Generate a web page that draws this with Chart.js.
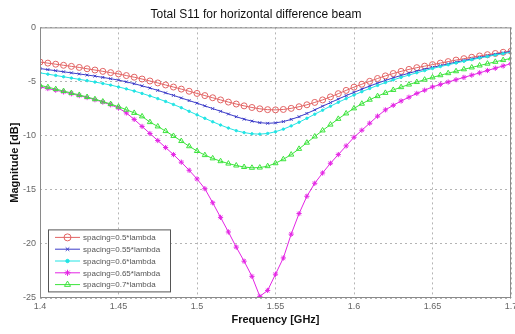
<!DOCTYPE html>
<html>
<head>
<meta charset="utf-8">
<script src="https://cdn.jsdelivr.net/npm/chart.js@4"></script>
<style>
  html, body { margin: 0; padding: 0; background: #fff; }
  #wrap { width: 515px; height: 334px; }
</style>
</head>
<body>
<div id="wrap"><canvas id="s11-chart" width="515" height="334"></canvas></div>
<script>
// frequency samples [GHz]
const freq = [];
for (let i = 0; i <= 60; i++) freq.push(+(1.4 + i * 0.005).toFixed(3));

// magnitude [dB]
const s050 = [-3.20,-3.30,-3.40,-3.50,-3.60,-3.70,-3.82,-3.94,-4.06,-4.18,-4.30,-4.45,-4.60,-4.77,-4.95,-5.13,-5.32,-5.51,-5.70,-5.90,
  -6.10,-6.30,-6.50,-6.70,-6.90,-7.08,-7.25,-7.40,-7.52,-7.60,-7.62,-7.58,-7.48,-7.33,-7.15,-6.93,-6.70,-6.42,-6.12,-5.82,
  -5.52,-5.25,-4.98,-4.72,-4.48,-4.26,-4.06,-3.88,-3.72,-3.58,-3.44,-3.30,-3.16,-3.02,-2.89,-2.76,-2.64,-2.52,-2.41,-2.30,-2.20];
const s055 = [-3.80,-3.90,-4.00,-4.10,-4.20,-4.30,-4.40,-4.50,-4.62,-4.74,-4.87,-5.03,-5.20,-5.40,-5.60,-5.82,-6.05,-6.28,-6.52,-6.76,
  -7.00,-7.25,-7.50,-7.75,-8.00,-8.25,-8.48,-8.66,-8.80,-8.86,-8.82,-8.70,-8.50,-8.25,-7.95,-7.62,-7.28,-6.95,-6.62,-6.30,
  -6.00,-5.70,-5.42,-5.15,-4.90,-4.66,-4.44,-4.23,-4.04,-3.86,-3.70,-3.53,-3.37,-3.21,-3.06,-2.91,-2.77,-2.63,-2.49,-2.35,-2.22];
const s060 = [-4.20,-4.32,-4.44,-4.56,-4.68,-4.80,-4.92,-5.05,-5.18,-5.33,-5.50,-5.68,-5.88,-6.10,-6.33,-6.58,-6.84,-7.12,-7.42,-7.75,
  -8.08,-8.40,-8.72,-9.02,-9.30,-9.54,-9.72,-9.83,-9.86,-9.80,-9.64,-9.40,-9.10,-8.76,-8.40,-8.02,-7.65,-7.28,-6.92,-6.58,
  -6.25,-5.94,-5.64,-5.36,-5.10,-4.85,-4.62,-4.40,-4.19,-3.99,-3.80,-3.62,-3.45,-3.29,-3.13,-2.98,-2.83,-2.69,-2.55,-2.42,-2.30];
const s065 = [-5.50,-5.65,-5.80,-5.96,-6.13,-6.30,-6.48,-6.68,-6.90,-7.15,-7.45,-7.90,-8.50,-9.15,-9.80,-10.45,-11.10,-11.75,-12.45,-13.20,
  -14.00,-14.90,-16.20,-17.55,-18.90,-20.30,-21.60,-23.00,-24.85,-24.30,-22.80,-21.30,-19.10,-17.20,-15.60,-14.40,-13.45,-12.55,-11.75,-10.95,
  -10.15,-9.50,-8.85,-8.20,-7.62,-7.20,-6.80,-6.45,-6.10,-5.80,-5.50,-5.27,-5.05,-4.83,-4.62,-4.41,-4.20,-3.98,-3.77,-3.56,-3.35];
const s070 = [-5.35,-5.52,-5.70,-5.88,-6.06,-6.24,-6.43,-6.63,-6.85,-7.08,-7.33,-7.60,-7.90,-8.22,-8.75,-9.15,-9.58,-10.03,-10.50,-10.98,
  -11.42,-11.80,-12.10,-12.36,-12.58,-12.76,-12.90,-12.97,-12.95,-12.82,-12.55,-12.18,-11.75,-11.22,-10.65,-10.08,-9.52,-8.98,-8.45,-7.95,
  -7.48,-7.05,-6.68,-6.35,-6.05,-5.78,-5.52,-5.28,-5.05,-4.83,-4.62,-4.42,-4.23,-4.05,-3.87,-3.70,-3.52,-3.35,-3.18,-3.02,-2.86];

const seriesNames = ['spacing=0.5*lambda', 'spacing=0.55*lambda', 'spacing=0.6*lambda', 'spacing=0.65*lambda', 'spacing=0.7*lambda'];
const seriesData = [s050, s055, s060, s065, s070];
const colors = ['#e26464', '#3c3cc8', '#22e4e4', '#e424e4', '#3ce43c'];
const markers = ['circle', 'crossRot', 'circle', 'star', 'triangle'];
const markerSize = [3, 2, 1.2, 2.6, 3];

const xTicks = [1.4, 1.45, 1.5, 1.55, 1.6, 1.65, 1.7];
const yTicks = [0, -5, -10, -15, -20, -25];

const FONT = 'Arial, "Liberation Sans", sans-serif';

const datasets = seriesData.map((vals, i) => ({
    label: seriesNames[i],
    data: vals.map((v, k) => ({ x: freq[k], y: v })),
    borderColor: colors[i],
    backgroundColor: i === 2 ? colors[i] : 'rgba(0,0,0,0)',
    borderWidth: 1,
    pointStyle: markers[i],
    pointRadius: markerSize[i],
    pointBorderColor: colors[i],
    pointBorderWidth: 1,
    pointHoverRadius: 0,
    tension: 0,
    fill: false
}));

// draw order like MATLAB: later series on top
datasets.forEach((d, i) => d.order = -i);

// box around plot + legend inside the axes
const boxPlugin = {
    id: 'boxLegend',
    afterDraw(chart) {
        const ctx = chart.ctx;
        const a = chart.chartArea;
        ctx.save();
        ctx.strokeStyle = '#8a8a8a';
        ctx.lineWidth = 1;
        ctx.strokeRect(a.left + 0.5, a.top + 0.5, a.right - a.left - 1, a.bottom - a.top - 1);

        // legend
        const lx = a.left + 8, ly = a.top + 202, lw = 122, lh = 62;
        ctx.fillStyle = '#fff';
        ctx.fillRect(lx, ly, lw, lh);
        ctx.strokeStyle = '#555';
        ctx.strokeRect(lx + 0.5, ly + 0.5, lw, lh);
        ctx.font = '8px ' + FONT;
        ctx.textBaseline = 'middle';
        seriesNames.forEach((name, i) => {
            const y = ly + 8 + i * 11.8;
            ctx.strokeStyle = colors[i];
            ctx.lineWidth = 1;
            ctx.beginPath();
            ctx.moveTo(lx + 7, y);
            ctx.lineTo(lx + 32, y);
            ctx.stroke();
            ctx.fillStyle = i === 2 ? colors[i] : 'rgba(0,0,0,0)';
            Chart.helpers.drawPoint(ctx, {
                pointStyle: markers[i], radius: markerSize[i] + 0.5, rotation: 0, borderWidth: 1
            }, lx + 19.5, y);
            ctx.fillStyle = '#555';
            ctx.fillText(name, lx + 35, y + 0.5);
        });
        ctx.restore();
    }
};

const ctx = document.getElementById('s11-chart').getContext('2d');
const chart = new Chart(ctx, {
    type: 'line',
    data: { datasets: datasets },
    options: {
        responsive: false,
        animation: false,
        layout: { padding: { left: 0, right: 3, top: 0, bottom: 0 } },
        plugins: {
            legend: { display: false },
            tooltip: { enabled: false },
            title: {
                display: true,
                text: 'Total S11 for horizontal difference beam',
                color: '#111',
                font: { family: FONT, size: 12, weight: 'normal' },
                padding: { top: 7, bottom: 6 }
            }
        },
        scales: {
            x: {
                type: 'linear',
                min: 1.4,
                max: 1.7,
                afterBuildTicks(scale) { scale.ticks = xTicks.map(v => ({ value: v })); },
                afterFit(scale) { scale.height = 36; scale.paddingLeft = 0; scale.paddingRight = 0; },
                ticks: {
                    color: '#666',
                    font: { family: FONT, size: 9 },
                    padding: 3,
                    maxRotation: 0,
                    autoSkip: false,
                    callback: v => String(+v.toFixed(2))
                },
                grid: { color: '#b4b4b4', drawTicks: false },
                border: { display: false, dash: [2, 3] },
                title: {
                    display: true,
                    text: 'Frequency [GHz]',
                    color: '#111',
                    font: { family: FONT, size: 11, weight: 'bold' },
                    padding: { top: 2, bottom: 7 }
                }
            },
            y: {
                min: -25,
                max: 0,
                afterBuildTicks(scale) { scale.ticks = yTicks.map(v => ({ value: v })); },
                afterFit(scale) { scale.width = 40; },
                ticks: {
                    color: '#666',
                    font: { family: FONT, size: 9 },
                    padding: 4
                },
                grid: { color: '#b4b4b4', drawTicks: false },
                border: { display: false, dash: [2, 3] },
                title: {
                    display: true,
                    text: 'Magnitude [dB]',
                    color: '#111',
                    font: { family: FONT, size: 11, weight: 'bold' },
                    padding: { top: 8, bottom: 2 }
                }
            }
        }
    },
    plugins: [boxPlugin]
});
</script>
</body>
</html>
